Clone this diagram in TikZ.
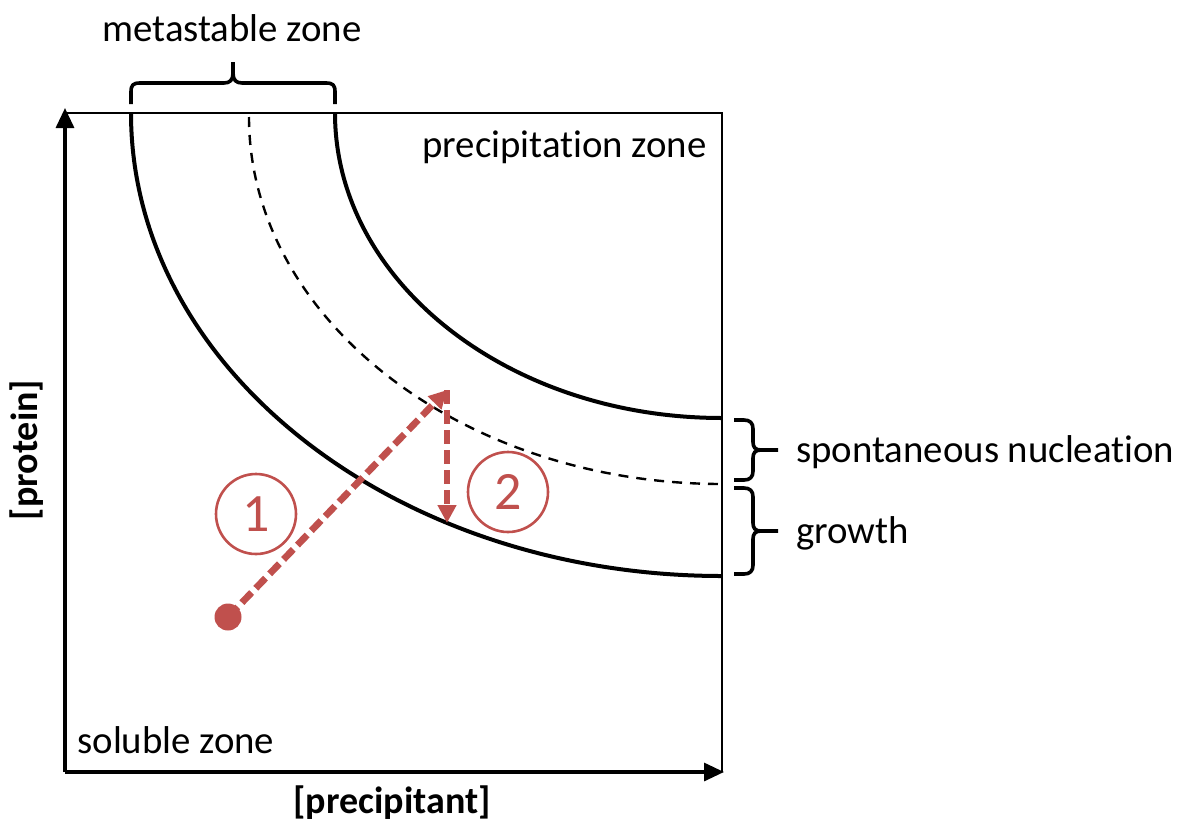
\documentclass[tikz,border=0pt]{standalone}
\usepackage{fontspec}
\setmainfont{Carlito}[Ligatures=NoCommon]
\usetikzlibrary{arrows.meta}
\definecolor{redc}{RGB}{192,80,77}
\tikzset{
  lbl/.style={inner sep=0pt, font=\fontsize{19.4}{23}\selectfont},
  axlbl/.style={inner sep=0pt, font=\fontsize{19}{23}\selectfont\bfseries},
  axisline/.style={line width=1.6pt, -{Triangle[length=10pt,width=9pt]}},
  boxline/.style={line width=1pt},
  curve/.style={line width=2pt},
  midcurve/.style={line width=1.2pt, dash pattern=on 5pt off 4pt},
  brace/.style={line width=1.8pt, line join=round},
  redarrow/.style={draw=redc, line width=3.4pt, dash pattern=on 7pt off 3pt, -{Triangle[length=9pt,width=9pt]}},
  numcircle/.style={circle, draw=redc, line width=1.3pt, minimum size=40pt, inner sep=0pt, text=redc, font=\fontsize{27}{30}\selectfont},
  dot/.style={circle, fill=redc, minimum size=13.5pt, inner sep=0pt}
}
\begin{document}
\begin{tikzpicture}[x=0.5pt,y=-0.5pt]
\useasboundingbox (0,0) rectangle (1182,825);
% box
\draw[boxline] (65,113) -- (722,113) -- (722,772);
% axes
\coordinate (origin) at (65,772);
\coordinate (ytop) at (65,108);
\coordinate (xend) at (724,772);
\draw[axisline] (origin) -- (ytop);
\draw[axisline] (origin) -- (xend);
% curves
\draw[curve] (131,113) .. controls (131,{113+0.5523*463}) and ({722-0.5523*591},576) .. (722,576);
\draw[curve] (335,113) .. controls (335,{113+0.5523*305}) and ({722-0.5523*387},418) .. (722,418);
\draw[midcurve] (249,117) .. controls (249,{113+0.5523*371}) and ({722-0.5523*473},484) .. (722,484);
% top brace
\draw[brace] (131,104) -- (131,92) .. controls (131,85) and (133,83) .. (140,83) -- (224,83)
  .. controls (230,83) and (233,80) .. (233,73) -- (233,62);
\draw[brace] (335,104) -- (335,92) .. controls (335,85) and (333,83) .. (326,83) -- (242,83)
  .. controls (236,83) and (233,80) .. (233,73);
% right brace 1
\draw[brace] (734,420) -- (744,420) .. controls (750,420) and (753,423) .. (753,429) -- (753,442)
  .. controls (753,447) and (755,450) .. (761,450) -- (778,450);
\draw[brace] (734,480) -- (744,480) .. controls (750,480) and (753,477) .. (753,471) -- (753,458)
  .. controls (753,453) and (755,450) .. (761,450);
% right brace 2
\draw[brace] (734,488) -- (744,488) .. controls (750,488) and (753,491) .. (753,497) -- (753,523)
  .. controls (753,528) and (755,531) .. (761,531) -- (778,531);
\draw[brace] (734,574) -- (744,574) .. controls (750,574) and (753,571) .. (753,565) -- (753,539)
  .. controls (753,534) and (755,531) .. (761,531);
% labels
\node[lbl] (meta) at (232,28) {metastable zone};
\node[lbl, anchor=east] (precip) at (707,147) {precipitation zone};
\node[lbl, anchor=west] (spont) at (796,452) {spontaneous nucleation};
\node[lbl, anchor=west] (growth) at (796,533) {growth};
\node[lbl, anchor=west] (soluble) at (77,740) {soluble zone};
\node[axlbl] (xlab) at (392,803) {[precipitant]};
\node[axlbl, rotate=90] (ylab) at (27,450) {[protein]};
% red path
\node[dot] (start) at (228,617) {};
\coordinate (peak) at (447,390);
\coordinate (low) at (447,523);
\draw[redarrow] (start.center) -- (peak);
\draw[redarrow] (peak) -- (low);
\node[numcircle] (n1) at (256,514) {1};
\node[numcircle] (n2) at (508,492) {2};
\end{tikzpicture}
\end{document}
